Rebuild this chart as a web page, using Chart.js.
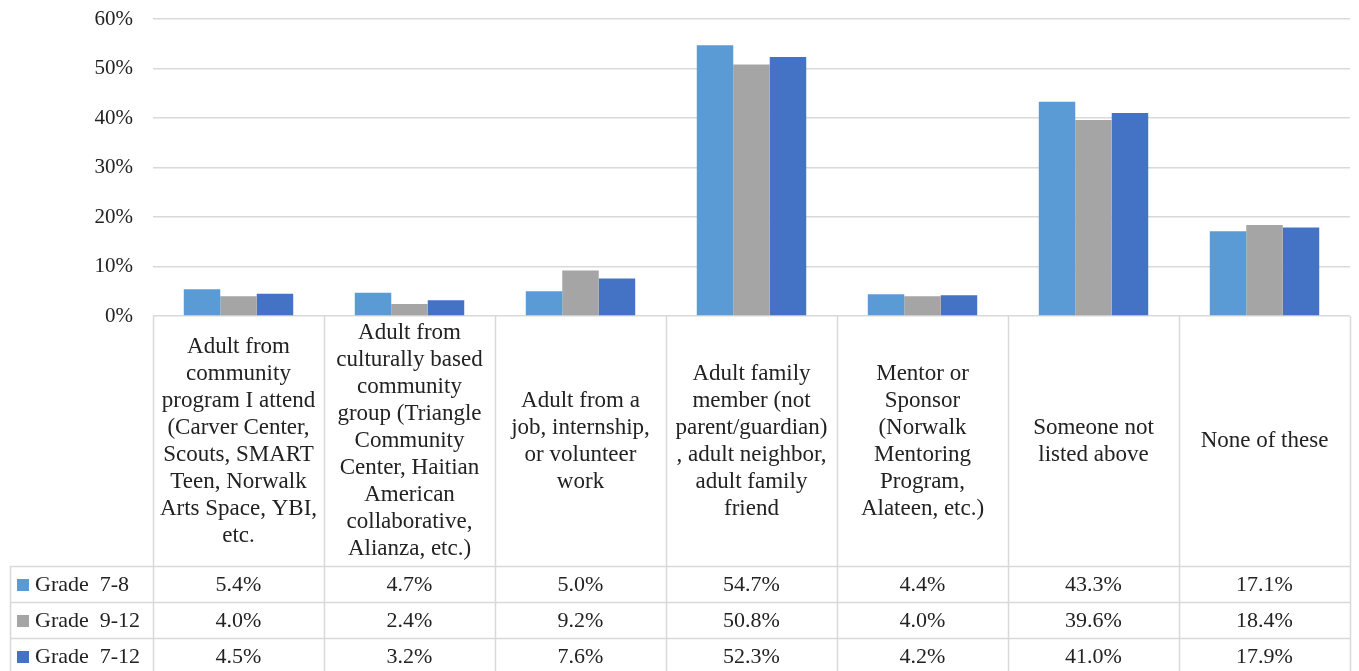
<!DOCTYPE html>
<html>
<head>
<meta charset="utf-8">
<script src="https://cdn.jsdelivr.net/npm/chart.js@4"></script>
<style>
  body { margin: 0; background: #fff; }
  #wrap { width: 1359px; height: 671px; }
</style>
</head>
<body>
<div id="wrap"><canvas id="plot"></canvas></div>
<script>
// categorias (ya partidas en lineas como en la tabla)
let categorias = [
  ["Adult from", "community", "program I attend", "(Carver Center,", "Scouts, SMART", "Teen, Norwalk", "Arts Space, YBI,", "etc."],
  ["Adult from", "culturally based", "community", "group (Triangle", "Community", "Center, Haitian", "American", "collaborative,", "Alianza, etc.)"],
  ["Adult from a", "job, internship,", "or volunteer", "work"],
  ["Adult family", "member (not", "parent/guardian)", ", adult neighbor,", "adult family", "friend"],
  ["Mentor or", "Sponsor", "(Norwalk", "Mentoring", "Program,", "Alateen, etc.)"],
  ["Someone not", "listed above"],
  ["None of these"]
];

// series
let grade78 = [5.4, 4.7, 5.0, 54.7, 4.4, 43.3, 17.1];
let grade912 = [4.0, 2.4, 9.2, 50.8, 4.0, 39.6, 18.4];
let grade712 = [4.5, 3.2, 7.6, 52.3, 4.2, 41.0, 17.9];

let nombresSeries = ["Grade  7-8", "Grade  9-12", "Grade  7-12"];
let colores = ["#5B9BD5", "#A5A5A5", "#4472C4"];

let fuente = "'Liberation Serif', 'Times New Roman', serif";

// plugin que dibuja la tabla de datos debajo del grafico
let tablaPlugin = {
  id: "tabla",
  afterDraw(chart) {
    let ctx = chart.ctx;
    let x = chart.scales.x;
    let area = chart.chartArea;
    let n = categorias.length;
    let ancho = (area.right - area.left) / n;
    let topTabla = area.bottom;
    let filaY = 566;
    let altoFila = 36;
    let izq = 10;

    ctx.save();
    ctx.strokeStyle = "#d9d9d9";
    ctx.lineWidth = 1.5;

    // lineas verticales
    ctx.beginPath();
    for (let i = 0; i <= n; i++) {
      let xx = Math.round(area.left + i * ancho) + 0.5;
      ctx.moveTo(xx, topTabla);
      ctx.lineTo(xx, chart.height);
    }
    ctx.moveTo(izq + 0.5, filaY);
    ctx.lineTo(izq + 0.5, chart.height);
    // lineas horizontales
    for (let r = 0; r < 3; r++) {
      let yy = filaY + r * altoFila + 0.5;
      ctx.moveTo(izq, yy);
      ctx.lineTo(area.right, yy);
    }
    ctx.stroke();

    // etiquetas de categoria
    ctx.fillStyle = "#222";
    ctx.font = "23px " + fuente;
    ctx.textAlign = "center";
    ctx.textBaseline = "middle";
    let altoLinea = 27;
    let centroY = (topTabla + filaY) / 2;
    categorias.forEach((lineas, i) => {
      let cx = x.getPixelForValue(i);
      let y0 = centroY - ((lineas.length - 1) * altoLinea) / 2;
      lineas.forEach((l, k) => ctx.fillText(l, cx, y0 + k * altoLinea));
    });

    // filas de datos
    ctx.font = "22px " + fuente;
    chart.data.datasets.forEach((ds, r) => {
      let cy = filaY + r * altoFila + altoFila / 2 + 1;
      ctx.fillStyle = ds.backgroundColor;
      ctx.fillRect(17, cy - 6, 12, 12);
      ctx.fillStyle = "#222";
      ctx.textAlign = "left";
      ctx.fillText(ds.label, 35, cy);
      ctx.textAlign = "center";
      ds.data.forEach((v, i) => {
        ctx.fillText(v.toFixed(1) + "%", x.getPixelForValue(i), cy);
      });
    });
    ctx.restore();
  }
};

let config = {
  type: "bar",
  data: {
    labels: categorias.map((c) => c.join(" ")),
    datasets: [
      { label: nombresSeries[0], data: grade78, backgroundColor: colores[0] },
      { label: nombresSeries[1], data: grade912, backgroundColor: colores[1] },
      { label: nombresSeries[2], data: grade712, backgroundColor: colores[2] }
    ]
  },
  options: {
    responsive: true,
    maintainAspectRatio: false,
    animation: false,
    layout: { padding: { top: 19, right: 9, bottom: 355, left: 0 } },
    datasets: { bar: { categoryPercentage: 0.64, barPercentage: 1.0 } },
    plugins: { legend: { display: false }, tooltip: { enabled: false } },
    scales: {
      x: { display: false },
      y: {
        min: 0,
        max: 60,
        ticks: {
          stepSize: 10,
          padding: 20,
          color: "#222",
          font: { family: fuente, size: 21 },
          callback: (v) => v + "%"
        },
        grid: { color: "#d9d9d9", lineWidth: 1.5, drawTicks: false },
        border: { display: false },
        afterFit: (scale) => {
          scale.width = 153;
          scale.paddingTop = 0;
          scale.paddingBottom = 0;
        }
      }
    }
  },
  plugins: [tablaPlugin]
};

let chart1 = new Chart(document.getElementById("plot"), config);
</script>
</body>
</html>
